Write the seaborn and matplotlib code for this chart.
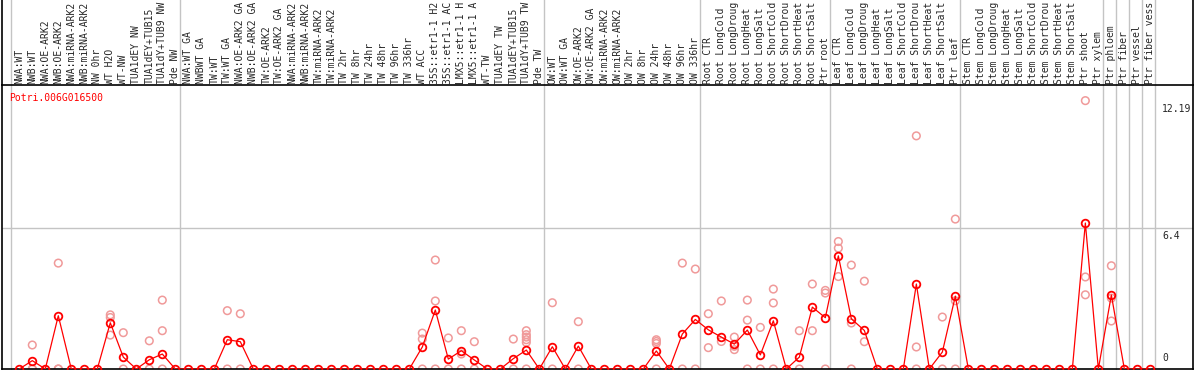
import numpy as np
import pandas as pd
import seaborn as sns
import matplotlib
matplotlib.use("Agg")
import matplotlib.pyplot as plt

gene_id = "Potri.006G016500"

sample_labels = [
    # NW group
    "NWA:WT", "NWB:WT", "NWA:OE-ARK2", "NWB:OE-ARK2", "NWA:miRNA-ARK2", "NWB:miRNA-ARK2",
    "NW 0hr", "WT H2O", "WT-NW", "TUA1dEY NW", "TUA1dEY+TUB15", "TUA1dY+TUB9 NW", "Pde NW",
    # TW group
    "NWA:WT GA", "NWBWT GA", "TW:WT", "TW:WT GA", "NWA:OE-ARK2 GA", "NWB:OE-ARK2 GA",
    "TW:OE-ARK2", "TW:OE-ARK2 GA", "NWA:miRNA-ARK2", "NWB:miRNA-ARK2", "TW:miRNA-ARK2",
    "TW:miRNA-ARK2", "TW 2hr", "TW 8hr", "TW 24hr", "TW 48hr", "TW 96hr", "TW 336hr",
    "WT ACC", "35S::etr1-1 H2", "35S::etr1-1 AC", "LMX5::etr1-1 H", "LMX5::etr1-1 A",
    "WT-TW", "TUA1dEY TW", "TUA1dEY+TUB15", "TUA1dY+TUB9 TW", "Pde TW",
    # OW group
    "OW:WT", "OW:WT GA", "OW:OE-ARK2", "OW:OE-ARK2 GA", "OW:miRNA-ARK2", "OW:miRNA-ARK2",
    "OW 2hr", "OW 8hr", "OW 24hr", "OW 48hr", "OW 96hr", "OW 336hr",
    # root
    "Root CTR", "Root LongCold", "Root LongDroug", "Root LongHeat", "Root LongSalt",
    "Root ShortCold", "Root ShortDrou", "Root ShortHeat", "Root ShortSalt", "Ptr root",
    # leaf
    "Leaf CTR", "Leaf LongCold", "Leaf LongDroug", "Leaf LongHeat", "Leaf LongSalt",
    "Leaf ShortCold", "Leaf ShortDrou", "Leaf ShortHeat", "Leaf ShortSalt", "Ptr leaf",
    # stem
    "Stem CTR", "Stem LongCold", "Stem LongDroug", "Stem LongHeat", "Stem LongSalt",
    "Stem ShortCold", "Stem ShortDrou", "Stem ShortHeat", "Stem ShortSalt", "Ptr shoot",
    "Ptr xylem",
    "Ptr phloem", "Ptr fiber", "Ptr vessel", "Ptr fiber vess",
]

mean_expr = [
    0, 0.38, 0, 2.42, 0, 0, 0, 2.10, 0.54, 0, 0.42, 0.68, 0,
    0, 0, 0, 1.33, 1.24, 0, 0, 0, 0, 0, 0, 0, 0, 0, 0, 0, 0, 0,
    1.00, 2.68, 0.45, 0.83, 0.41, 0, 0, 0.47, 0.86, 0,
    1.01, 0, 1.04, 0, 0, 0, 0, 0, 0.82, 0, 1.59, 2.25,
    1.78, 1.45, 1.13, 1.77, 0.64, 2.19, 0, 0.54, 2.81, 2.33,
    5.14, 2.28, 1.75, 0, 0, 0, 3.86, 0, 0.77, 3.31,
    0, 0, 0, 0, 0, 0, 0, 0, 0, 6.63, 0,
    3.36, 0, 0, 0,
]

# replicate values, keyed by sample position
replicates = {
    1: [1.09, 0, 0], 3: [4.81, 0, 0], 7: [2.46, 2.34, 1.54], 8: [1.65, 0],
    10: [1.28, 0], 11: [3.13, 1.74, 0], 16: [2.65, 0], 17: [2.51, 0],
    31: [1.63, 1.36, 0], 32: [4.95, 3.09, 0], 33: [1.41, 0], 34: [1.74, 0.68, 0],
    35: [1.24, 0], 38: [1.36, 0], 39: [1.74, 1.56, 1.45, 1.33, 1.21, 0],
    41: [3.01, 0], 43: [2.15, 0], 49: [1.33, 1.25, 1.16, 0], 51: [4.81, 0],
    52: [4.54, 0], 53: [2.51, 0.97], 54: [3.09, 1.25], 55: [1.45, 1.03, 0.88],
    56: [3.13, 2.22, 0], 57: [1.89, 0], 58: [3.63, 3.00, 0], 60: [1.74, 0],
    61: [3.86, 1.74], 62: [3.57, 3.45, 0], 63: [5.79, 5.49, 4.20],
    64: [4.72, 2.09, 0], 65: [3.99, 1.24], 69: [10.59, 1.00, 0], 71: [2.36, 0],
    72: [6.81, 3.10, 0], 82: [12.19, 4.18, 3.37], 84: [4.69, 3.22, 2.18],
}

# first sample of each block (vertical separators)
group_starts = [0, 13, 41, 53, 63, 73, 84, 85, 86, 87, 88]
y_ticks = [0, 6.4, 12.19]

mono = "DejaVu Sans Mono"

df = pd.DataFrame({"pos": np.arange(len(sample_labels)), "expr": mean_expr})
rep_df = pd.DataFrame(
    [(k, v) for k, vals in replicates.items() for v in vals], columns=["pos", "expr"]
)

sns.set_style("white")
fig = plt.figure(figsize=(11.94, 3.70), dpi=100)
ax = fig.add_axes([2 / 1194, 1 / 370, 1191 / 1194, 284 / 370])

ax.set_xlim(-1.33, 90.28)
ax.set_ylim(0, 12.9)

# separators run through the header too
for g in group_starts:
    ax.plot([g - 0.64, g - 0.64], [0, 1.31], color="#c4c4c4", lw=1,
            transform=ax.get_xaxis_transform(), clip_on=False, zorder=1)
ax.axhline(6.4, color="#c4c4c4", lw=1, zorder=1)

sns.scatterplot(data=rep_df, x="pos", y="expr", ax=ax, marker="o",
                facecolor="none", edgecolor="#f09a9a", linewidth=1.1, s=30, zorder=2)
sns.lineplot(data=df, x="pos", y="expr", ax=ax, color="red", lw=0.9,
             marker="o", markersize=5.5, markerfacecolor="none",
             markeredgecolor="red", markeredgewidth=1.3, zorder=3)

for i, lab in enumerate(sample_labels):
    ax.text(i, 1.004, lab, rotation=90, ha="center", va="bottom", fontsize=7,
            family=mono, transform=ax.get_xaxis_transform(), clip_on=False)

ax.text(0.006, 0.955, gene_id, color="red", fontsize=7, family=mono,
        transform=ax.transAxes, va="center", ha="left")

for t in y_ticks:
    ax.text(1163 / 1194, t + (0.25 if t == 0 else -0.15), str(t), fontsize=7, family=mono,
            transform=ax.get_yaxis_transform(), ha="left",
            va="bottom" if t == 0 else "top")

for side in ["left", "right", "top", "bottom"]:
    ax.spines[side].set_color("black")
    ax.spines[side].set_linewidth(1.2)
for xs in [0, 1]:
    ax.plot([xs, xs], [1, 1.31], color="black", lw=1.2, transform=ax.transAxes,
            clip_on=False)

ax.set_xticks([])
ax.set_yticks([])
ax.set_xlabel("")
ax.set_ylabel("")

fig.savefig("out.png", dpi=100)
